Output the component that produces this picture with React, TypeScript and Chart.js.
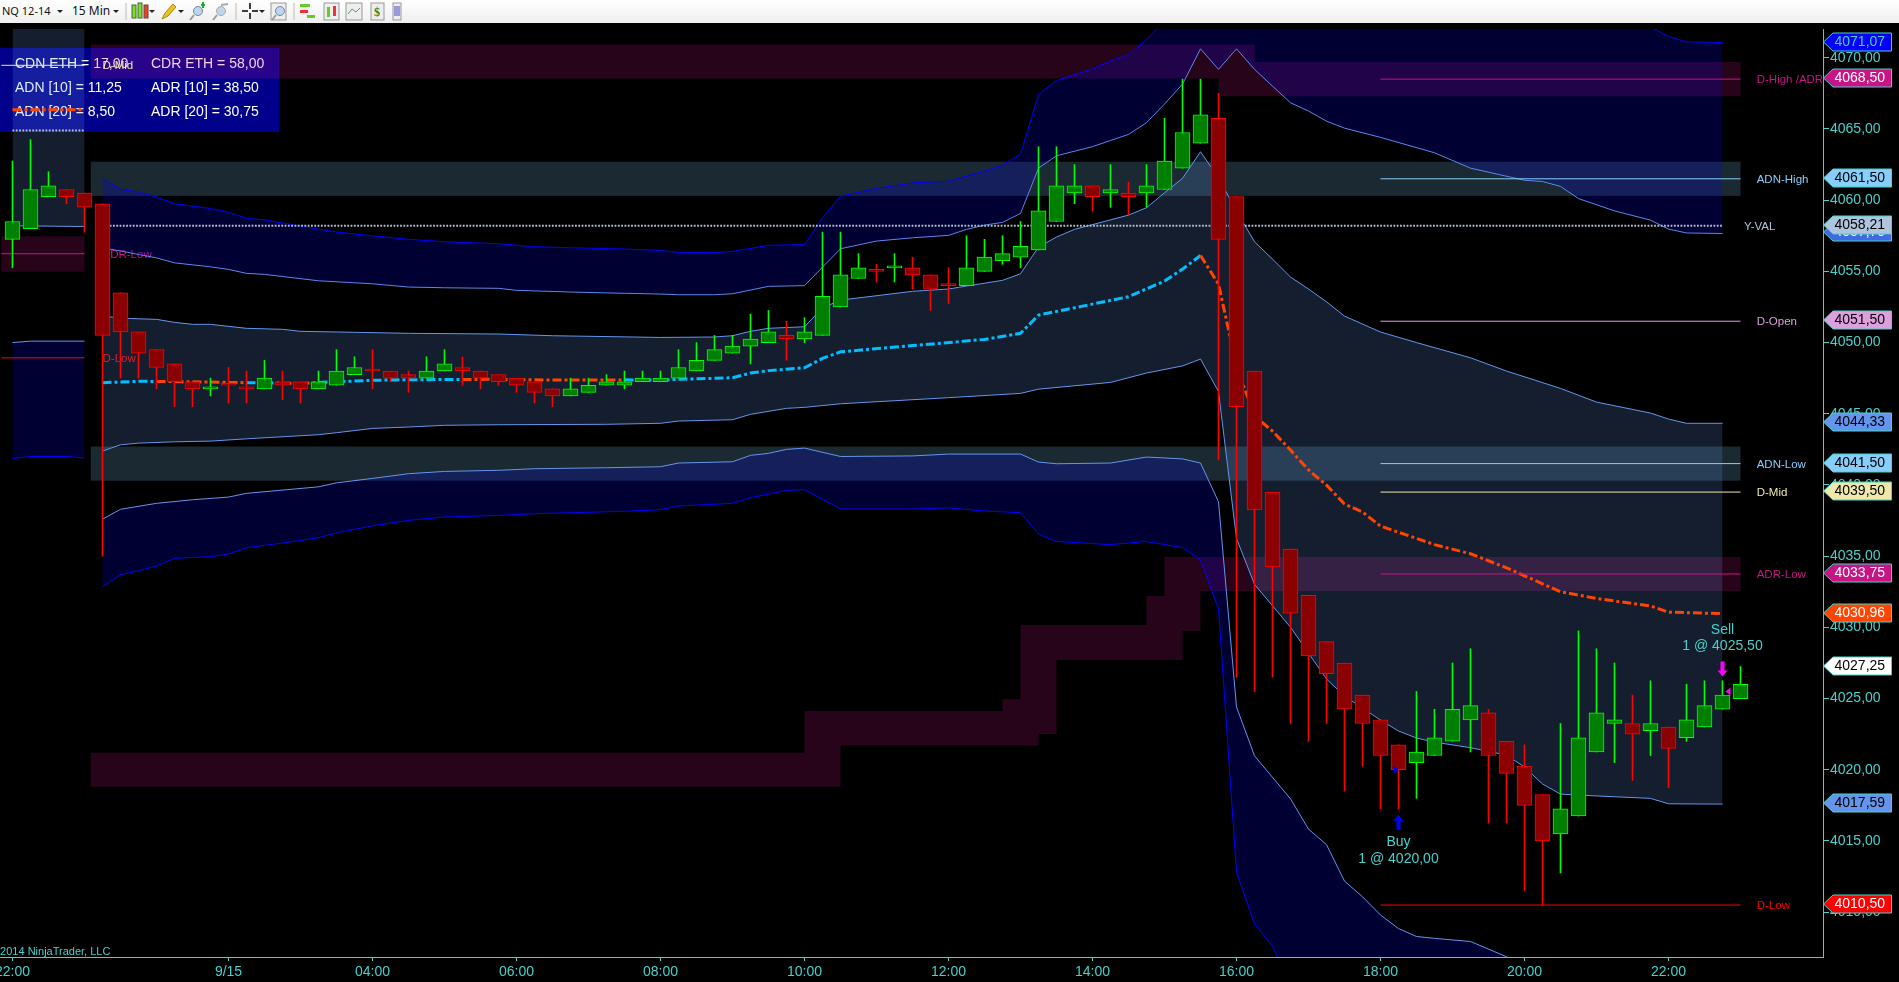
import React, { useEffect, useRef } from "react";
import { Chart, registerables } from "chart.js";

Chart.register(...registerables);

const FONT = '"Liberation Sans", Arial, sans-serif';
const TURQ = "#48d1cc";
const CORN = "rgb(100,149,237)";
const BLUE = "rgb(0,0,255)";
const CYAN = "rgb(0,191,255)";
const ORANGE = "rgb(255,69,0)";
const MAG = "rgb(199,21,133)";
const SKY = "rgb(135,206,250)";
const PLUM = "rgb(221,160,221)";
const GOLD = "rgb(238,232,170)";
const STEEL = "rgb(176,196,222)";
const RED = "rgb(255,0,0)";
const DOTS = "rgb(180,190,210)";
const ZONE_MAG = "rgba(199,21,133,0.2)";
const ZONE_SKY = "rgba(135,206,250,0.2)";
const FILL_SLATE = "rgba(100,149,237,0.2)";
const FILL_NAVY = "rgba(0,0,255,0.2)";

// One row per 15 min bar, slot index = array index
const opens = [4057.25,4058,4060.25,4060.75,4060.5,4059.75,4053.5,4050.75,4049.5,4048.5,4047.25,4046.75,4047,4046.75,4046.75,4047.25,4047.25,4046.75,4047,4047.75,4048,4048,4047.75,4047.5,4048,4048.25,4048,4047.75,4047.5,4047.25,4046.75,4046.25,4046.5,4047,4047,4047.25,4047.25,4047.5,4048,4048.75,4049.25,4049.75,4050,4050.5,4050.25,4050.5,4052.5,4054.5,4055,4055.25,4055.25,4054.75,4054,4054,4055,4055.75,4056,4056.5,4058.5,4060.5,4061,4060.5,4060.5,4060.5,4060.75,4062.25,4064,4065.75,4060.25,4048,4039.5,4035.5,4032.25,4029,4027.5,4025.25,4023.5,4021.75,4020.5,4021,4022,4023.5,4024,4022,4020.25,4018.25,4015.5,4016.75,4021.25,4023.25,4023.25,4022.75,4023,4022.25,4023,4024.25,4025];
const highs = [4062.75,4064.25,4062,4060.75,4060.5,4059.75,4053.5,4050.75,4049.5,4048.5,4047.25,4047.5,4048.25,4048,4048.75,4048,4047.25,4048,4049.5,4049,4049.5,4048,4048,4049,4049.5,4049,4048,4047.75,4047.5,4047.25,4046.75,4047.5,4047.5,4047.75,4048,4048,4048,4049.5,4050,4050.5,4050.5,4052,4052.25,4051.5,4051.75,4057.75,4057.75,4056.25,4055.5,4056.25,4056,4054.75,4055.25,4057.5,4057.25,4057.5,4058.5,4063.75,4063.75,4062.5,4061,4062.5,4061.25,4062.5,4065.75,4068.5,4068.5,4067.5,4060.25,4048,4039.5,4035.5,4032.25,4029,4027.5,4025.25,4023.5,4021.75,4025.5,4024.25,4027.5,4028.5,4024.25,4022,4021.75,4018.25,4023.25,4029.75,4028.5,4027.5,4025.25,4026.25,4023,4026,4026.25,4026.25,4027.25];
const lows = [4055.25,4058,4060.25,4059.75,4057.75,4035,4047.5,4047.5,4046.75,4045.5,4045.5,4046.25,4045.75,4045.75,4046.75,4046,4045.75,4046.75,4047,4047.75,4046.75,4047.25,4046.5,4047.5,4048,4047,4046.75,4047,4046.5,4045.75,4045.5,4046.25,4046.5,4047,4046.75,4047.25,4047.25,4047.5,4048,4048.75,4049.25,4048.5,4050,4048.75,4050,4050.5,4052.5,4054.5,4054.25,4054.25,4053.75,4052.25,4052.75,4054,4055,4055.5,4055.25,4056.5,4058.5,4059.75,4059.25,4059.5,4059,4059.5,4060.75,4062.25,4064,4041.75,4026.5,4025.5,4026.5,4023.25,4022,4023.25,4018.5,4020.25,4017.25,4017.25,4018,4021,4022,4021.25,4016.25,4016.25,4011.5,4010.5,4012.75,4016.75,4021.25,4020.5,4019.25,4021,4018.75,4022,4023,4024.25,4025];
const closes = [4058.5,4060.75,4061,4060.25,4059.5,4050.5,4050.75,4049.25,4048.25,4047.25,4046.75,4046.75,4047,4046.75,4047.5,4047,4046.75,4047.25,4048,4048.25,4048,4047.5,4047.5,4048,4048.5,4048,4047.5,4047.25,4047,4046.5,4046.25,4046.75,4047,4047.25,4047.25,4047.5,4047.5,4048.25,4048.75,4049.5,4049.75,4050.25,4050.75,4050.25,4050.75,4053.25,4054.75,4055.25,4055,4055.25,4054.75,4053.75,4054,4055.25,4056,4056.25,4056.75,4059.25,4061,4061,4060.25,4060.75,4060.25,4061,4062.75,4064.75,4066,4057.25,4045.5,4038.25,4034.25,4031,4028,4026.75,4024.25,4023.25,4021,4020,4021.25,4022.25,4024.25,4024.5,4021,4019.75,4017.5,4015,4017.25,4022.25,4024,4023.5,4022.5,4023.25,4021.5,4023.5,4024.5,4025.25,4026];
const bullish = [1,1,1,0,0,0,0,0,0,0,0,1,0,0,1,0,0,1,1,1,0,0,0,1,1,0,0,0,0,0,0,1,1,1,1,1,1,1,1,1,1,1,1,0,1,1,1,1,0,1,0,0,0,1,1,1,1,1,1,1,0,1,0,1,1,1,1,0,0,0,0,0,0,0,0,0,0,0,1,1,1,1,0,0,0,0,1,1,1,1,0,1,0,1,1,1,1];

// Axis ticks
const tickSlots = [0,12,20,28,36,44,52,60,68,76,84,92];
const tickLabels = ["22:00","9/15","04:00","06:00","08:00","10:00","12:00","14:00","16:00","18:00","20:00","22:00"];

// Volatility bands as [slot, price]
const upper3 = [[5,4061.5],[6,4060.76],[7,4060.57],[8,4060.22],[9,4059.75],[11,4059.42],[12,4059.16],[13,4058.72],[14,4058.62],[16,4058.18],[18,4057.76],[20,4057.5],[22,4057.25],[24,4057.08],[27,4056.94],[29,4056.73],[31,4056.66],[34,4056.57],[36,4056.47],[37,4056.33],[39,4056.33],[40,4056.4],[42,4056.83],[44,4056.88],[45,4058.76],[46,4060.27],[47,4060.55],[48,4060.83],[49,4061.01],[50,4061.21],[52,4061.33],[54,4062.04],[55,4062.46],[56,4063.24],[57,4067.42],[58,4068.41],[60,4069.22],[61,4069.78],[62,4070.21],[63,4071.29],[64,4072.58],[66,4076],[68,4077],[75,4076.5],[85,4075],[90,4074],[91,4072.16],[92,4071.5],[93,4071.12],[95,4071.07]];
const upper2 = [[5,4056.66],[6,4056.43],[7,4056.19],[8,4055.95],[9,4055.6],[11,4055.32],[12,4055.14],[13,4054.86],[14,4054.79],[17,4054.34],[20,4054.13],[22,4053.9],[24,4053.85],[27,4053.81],[28,4053.67],[31,4053.55],[34,4053.46],[36,4053.41],[37,4053.36],[39,4053.36],[40,4053.43],[42,4053.95],[44,4054],[46,4056.59],[48,4057.13],[50,4057.36],[52,4057.53],[53,4057.95],[54,4058.25],[55,4058.44],[56,4059.07],[57,4062.25],[58,4063.12],[60,4063.76],[61,4064.19],[62,4064.62],[63,4065.44],[64,4066.75],[65,4068.15],[66,4070.63],[67,4069.19],[68,4070.63],[69,4069.19],[70,4068.01],[71,4066.84],[72,4066.26],[73,4065.55],[74,4065.06],[76,4064.41],[79,4063.33],[81,4062.25],[84,4061.4],[85,4061.31],[86,4060.97],[87,4060.11],[89,4059.25],[91,4058.6],[92,4057.97],[93,4057.7],[95,4057.66]];
const upper1 = [[5,4051.86],[6,4051.72],[7,4051.67],[8,4051.63],[9,4051.42],[10,4051.28],[11,4051.28],[13,4051],[15,4050.93],[16,4050.79],[19,4050.72],[22,4050.65],[27,4050.6],[30,4050.48],[36,4050.36],[39,4050.39],[40,4050.48],[41,4050.79],[42,4051],[44,4051.11],[45,4052.44],[46,4052.98],[50,4053.6],[52,4053.76],[53,4053.97],[55,4054.37],[56,4054.83],[57,4056.71],[58,4057.41],[59,4057.95],[62,4058.95],[63,4059.47],[64,4060.52],[65,4061.53],[66,4063.4],[67,4061.57],[68,4059.23],[69,4057.08],[70,4055.86],[71,4054.6],[72,4053.76],[73,4052.86],[74,4051.86],[76,4050.74],[78,4050],[81,4048.93],[83,4048],[86,4046.78],[88,4045.82],[91,4045.05],[92,4044.63],[93,4044.33],[95,4044.33]];
const vwap = [[5,4047.18],[7,4047.28],[8,4047.27],[10,4047.25],[13,4047.18],[15,4047.15],[16,4047.13],[17,4047.2],[18,4047.25],[20,4047.35],[22,4047.39],[25,4047.41],[27,4047.42],[30,4047.37],[34,4047.38],[36,4047.37],[37,4047.42],[39,4047.49],[40,4047.53],[41,4047.86],[42,4048.03],[44,4048.23],[45,4048.89],[46,4049.35],[50,4049.79],[54,4050.22],[56,4050.65],[57,4051.93],[60,4052.7],[62,4053.22],[64,4054.32],[65,4055.16],[66,4056.11],[67,4054.11],[68,4048.35],[69,4044.84],[70,4043.78],[71,4042.45],[72,4041.05],[73,4039.99],[74,4038.66],[75,4038.1],[76,4037.11],[79,4035.81],[81,4035.17],[83,4034.18],[86,4032.5],[88,4032.03],[91,4031.5],[92,4031.07],[95,4030.96]];
const vwapBelowSpans = [[8,13],[15,17],[25,34],[66,96]];
const lower1 = [[5,4042.38],[6,4042.82],[7,4042.94],[9,4043.03],[11,4043.08],[13,4043.24],[17,4043.53],[18,4043.67],[20,4043.97],[22,4044.07],[24,4044.19],[27,4044.23],[33,4044.26],[36,4044.33],[37,4044.49],[40,4044.58],[41,4044.96],[43,4045.38],[44,4045.45],[46,4045.7],[52,4046.13],[56,4046.43],[57,4046.73],[61,4047.2],[63,4047.86],[65,4048.36],[66,4048.84],[67,4046.56],[68,4036.24],[69,4033.02],[71,4030.01],[73,4026.37],[74,4025.18],[75,4024.33],[76,4023.49],[77,4022.72],[78,4022.23],[79,4021.94],[81,4021.55],[83,4021.03],[84,4020.19],[85,4019],[86,4018.29],[87,4018.22],[91,4017.99],[92,4017.61],[95,4017.59]];
const lower2 = [[5,4037.6],[6,4038.29],[8,4038.71],[10,4038.96],[12,4039.15],[13,4039.41],[17,4039.87],[18,4040.15],[20,4040.46],[22,4040.79],[24,4040.95],[27,4041.03],[29,4041.14],[33,4041.21],[36,4041.28],[37,4041.54],[40,4041.63],[41,4042.08],[42,4042.22],[43,4042.5],[44,4042.59],[46,4042],[50,4042.04],[52,4042.17],[56,4042.17],[57,4041.61],[58,4041.49],[61,4041.54],[63,4041.96],[65,4041.83],[66,4041.54],[67,4038.82],[68,4024.41],[69,4020.98],[71,4017.96],[72,4015.83],[73,4014.74],[74,4012.18],[75,4011.08],[76,4009.8],[77,4008.85],[78,4008.29],[79,4008.16],[81,4007.94],[83,4006.87],[84,4006.2],[86,4004],[92,4004.2],[95,4004]];
const lower3 = [[5,4032.85],[6,4033.69],[7,4033.98],[8,4034.3],[9,4034.85],[11,4034.96],[12,4035.15],[13,4035.59],[15,4035.92],[17,4036.29],[18,4036.64],[20,4037.13],[22,4037.51],[24,4037.75],[27,4037.86],[29,4037.98],[31,4038.05],[34,4038.15],[36,4038.26],[37,4038.52],[40,4038.71],[41,4039.1],[43,4039.62],[44,4039.67],[46,4038.31],[50,4038.31],[52,4038.39],[54,4038.17],[56,4038.05],[57,4036.55],[58,4036.03],[61,4035.81],[63,4036.03],[65,4035.6],[66,4034.73],[67,4031.3],[68,4012.81],[69,4009.16],[70,4007.62],[71,4004.8],[76,3996],[83,3994],[95,3993]];

// Previous session, left edge
const prevSlateTop = [[0,4073],[4,4073]];
const prevSlateBottom = [[0,4058.2],[4,4058.15]];
const prevNavyTop = [[0,4050],[1,4050.1],[4,4050.1]];
const prevNavyBottom = [[0,4041.85],[1,4042],[3,4042],[4,4041.9]];
const prevOrangeLine = [[0,4066.35],[4,4066.35]];
const prevDotted = [[0,4064.89],[4,4064.89]];

// Levels: slotFrom, slotTo, price, colour
const levels = [
  [76,96,4068.5,MAG],[76,96,4061.5,SKY],[76,96,4051.5,PLUM],[76,96,4041.5,SKY],
  [76,96,4039.5,GOLD],[76,96,4033.75,MAG],[76,96,4010.5,RED],
  [-0.62,4,4069.47,GOLD],[-0.62,4,4056.24,MAG],[-0.62,4,4048.93,RED],
];
const yVal = [[5.4,4058.21],[95,4058.21]];

// Plain zones: slotFrom, slotTo, top, bottom, colour
const zones = [
  [4.35,96,4062.7,4060.3,ZONE_SKY],
  [4.35,96,4042.7,4040.3,ZONE_SKY],
  [-0.62,4,4057.46,4054.97,ZONE_MAG],
];
// Stepped zones: each edge holds its price until the next [slot, price]
const zoneEnd = 96;
const zoneStart = 4.35;
const highZoneTop = [[zoneStart,4070.94],[69,4069.7]];
const highZoneBottom = [[zoneStart,4068.55],[67,4067.3]];
const lowZoneTop = [[zoneStart,4021.2],[44,4024.12],[55,4024.96],[56,4030.16],[63,4032.2],[64,4034.95]];
const lowZoneBottom = [[zoneStart,4018.8],[46,4021.71],[57,4022.51],[58,4027.7],[65,4029.74],[66,4032.55]];

// Level labels: text, slot, price, colour
const levelLabels = [
  ["D-High /ADR",96.9,4068.5,MAG],["ADN-High",96.9,4061.5,SKY],["Y-VAL",96.2,4058.21,STEEL],
  ["D-Open",96.9,4051.5,PLUM],["ADN-Low",96.9,4041.5,SKY],["D-Mid",96.9,4039.5,GOLD],
  ["ADR-Low",96.9,4033.75,MAG],["D-Low",96.9,4010.5,RED],
  ["D-Mid",5,4069.47,GOLD],["ADR-Low",5,4056.24,MAG],["D-Low",5,4048.93,RED],
];

// Price tags: price, fill, text colour
const priceTags = [
  [4071.07,"rgb(0,0,255)",TURQ],[4068.5,MAG,"#fff"],[4061.5,SKY,"#000"],[4057.7,"rgb(65,105,225)","#fff"],
  [4058.21,STEEL,"#000"],[4051.5,PLUM,"#000"],[4044.33,CORN,"#000"],[4041.5,SKY,"#000"],
  [4039.5,GOLD,"#000"],[4033.75,MAG,"#fff"],[4030.96,ORANGE,"#fff"],[4027.25,"#fff","#000"],
  [4017.59,CORN,"#000"],[4010.5,RED,"#fff"],
];

const statsRows = [
  ["CDN ETH = 17,00","CDR ETH = 58,00"],
  ["ADN [10] = 11,25","ADR [10] = 38,50"],
  ["ADN [20] = 8,50","ADR [20] = 30,75"],
];

const buySlot = 77, buyPrice = 4020, sellSlot = 95, sellPrice = 4025.5;

const pts = (a: number[][]) => a.map(([x, y]) => ({ x, y }));
const fmt = (v: number) => v.toFixed(2).replace(".", ",");
const belowVwap = (x: number) => vwapBelowSpans.some(([a, b]) => x >= a && x < b);

function line(data: number[][], color: string, extra: any = {}) {
  return { type: "line", data: pts(data), borderColor: color, backgroundColor: "transparent", borderWidth: 1, pointRadius: 0, tension: 0, fill: false, order: 10, ...extra };
}

const overlay = {
  id: "overlay",
  beforeDatasetsDraw(chart: any) {
    const { ctx, scales: { x, y } } = chart;
    ctx.save();
    // statistics panel sits beneath everything
    ctx.fillStyle = "rgb(0,0,139)";
    ctx.fillRect(0, 48, 279, 84);
    ctx.font = `14px ${FONT}`;
    ctx.textBaseline = "middle";
    ctx.textAlign = "left";
    ctx.fillStyle = "#fff";
    statsRows.forEach((r, i) => {
      ctx.fillText(r[0], 15, 64 + i * 24);
      ctx.fillText(r[1], 151, 64 + i * 24);
    });
    for (const [a, b, t, bt, c] of zones as any[]) {
      const x0 = x.getPixelForValue(a), x1 = x.getPixelForValue(b);
      const y0 = y.getPixelForValue(t), y1 = y.getPixelForValue(bt);
      ctx.fillStyle = c;
      ctx.fillRect(x0, y0, x1 - x0, y1 - y0);
    }
    const stepped = (top: number[][], bottom: number[][]) => {
      ctx.beginPath();
      top.forEach(([s, v], i) => {
        const px = x.getPixelForValue(s), py = y.getPixelForValue(v);
        if (i === 0) ctx.moveTo(px, py); else ctx.lineTo(px, py);
        const next = i + 1 < top.length ? top[i + 1][0] : zoneEnd;
        ctx.lineTo(x.getPixelForValue(next), py);
      });
      for (let i = bottom.length - 1; i >= 0; i--) {
        const [s, v] = bottom[i];
        const next = i + 1 < bottom.length ? bottom[i + 1][0] : zoneEnd;
        const py = y.getPixelForValue(v);
        ctx.lineTo(x.getPixelForValue(next), py);
        ctx.lineTo(x.getPixelForValue(s), py);
      }
      ctx.closePath();
      ctx.fillStyle = ZONE_MAG;
      ctx.fill();
    };
    stepped(highZoneTop, highZoneBottom);
    stepped(lowZoneTop, lowZoneBottom);
    ctx.font = `11.5px ${FONT}`;
    for (const [s, k, v, c] of levelLabels as any[]) {
      ctx.fillStyle = c;
      ctx.fillText(s, x.getPixelForValue(k), y.getPixelForValue(v) + 1);
    }
    ctx.restore();
  },
  afterDraw(chart: any) {
    const { ctx, scales: { x, y } } = chart;
    ctx.save();
    // price tags
    for (const [v, fill, txt] of priceTags as any[]) {
      const cy = Math.round(y.getPixelForValue(v)) - 1;
      ctx.beginPath();
      ctx.moveTo(1823.5, cy);
      ctx.lineTo(1833, cy - 9);
      ctx.lineTo(1891.5, cy - 9);
      ctx.lineTo(1891.5, cy + 9);
      ctx.lineTo(1833, cy + 9);
      ctx.closePath();
      ctx.fillStyle = fill;
      ctx.fill();
      ctx.strokeStyle = TURQ;
      ctx.lineWidth = 1;
      ctx.stroke();
      ctx.fillStyle = txt;
      ctx.font = `14px ${FONT}`;
      ctx.textAlign = "left";
      ctx.textBaseline = "middle";
      ctx.fillText(fmt(v), 1834.5, cy + 0.5);
    }
    // trade markers
    const arrow = (cx: number, tip: number, dir: number, col: string) => {
      ctx.fillStyle = col;
      ctx.beginPath();
      ctx.moveTo(cx, tip);
      ctx.lineTo(cx + 5, tip + dir * 6);
      ctx.lineTo(cx + 2, tip + dir * 6);
      ctx.lineTo(cx + 2, tip + dir * 15);
      ctx.lineTo(cx - 2, tip + dir * 15);
      ctx.lineTo(cx - 2, tip + dir * 6);
      ctx.lineTo(cx - 5, tip + dir * 6);
      ctx.closePath();
      ctx.fill();
    };
    const bx = x.getPixelForValue(buySlot), by = y.getPixelForValue(buyPrice);
    const sx = x.getPixelForValue(sellSlot), sy = y.getPixelForValue(sellPrice);
    arrow(bx, by + 45, 1, "rgb(0,0,255)");
    arrow(sx, sy - 15, -1, "rgb(255,0,255)");
    ctx.fillStyle = "rgb(0,0,255)";
    ctx.beginPath();
    ctx.moveTo(bx - 5, by - 4); ctx.lineTo(bx - 5, by + 4); ctx.lineTo(bx, by); ctx.closePath(); ctx.fill();
    ctx.fillStyle = "rgb(255,0,255)";
    ctx.beginPath();
    ctx.moveTo(sx + 8, sy - 4); ctx.lineTo(sx + 8, sy + 4); ctx.lineTo(sx + 3, sy); ctx.closePath(); ctx.fill();
    ctx.fillStyle = TURQ;
    ctx.font = `14px ${FONT}`;
    ctx.textAlign = "center";
    ctx.textBaseline = "middle";
    ctx.fillText("Buy", bx, by + 72);
    ctx.fillText("1 @ " + fmt(buyPrice), bx, by + 89);
    ctx.fillText("Sell", sx, sy - 61);
    ctx.fillText("1 @ " + fmt(sellPrice), sx, sy - 45);
    // copyright
    ctx.textAlign = "left";
    ctx.font = `11px ${FONT}`;
    ctx.fillText("©2014 NinjaTrader, LLC", -8, 952);
    ctx.restore();
  },
};

function Toolbar() {
  const tri = (x: number) => <polygon points={`${x},10 ${x + 6},10 ${x + 3},13`} fill="#222" />;
  const sep = (x: number) => <line x1={x} x2={x} y1={3} y2={20} stroke="#bbb" />;
  const lens = (x: number, c: string) => (
    <g>
      <circle cx={x + 8} cy={11} r={4.5} fill="#bcd6ee" stroke={c} />
      <line x1={x + 4} y1={15} x2={x} y2={20} stroke="#999" strokeWidth={2} />
    </g>
  );
  const box = (x: number, w: number, body: any) => (
    <g>
      <rect x={x} y={3} width={w} height={17} fill="#eee" stroke="#999" />
      {body}
    </g>
  );
  return (
    <svg width={1899} height={23} style={{ position: "absolute", left: 0, top: 0, display: "block" }}>
      <defs>
        <linearGradient id="tb" x1="0" x2="0" y1="0" y2="1">
          <stop offset="0" stopColor="#ffffff" />
          <stop offset="1" stopColor="#efefef" />
        </linearGradient>
      </defs>
      <rect width={1899} height={23} fill="url(#tb)" />
      <text x={2} y={15} fontFamily="Noto Sans, Open Sans" fontSize={11} fill="#111">NQ 12-14</text>
      {tri(57)}
      <text x={72} y={15} fontFamily="Noto Sans, Open Sans" fontSize={12} fill="#111">15 Min</text>
      {tri(113)}
      {sep(126)}
      <rect x={132} y={5} width={4} height={13} fill="#7fe020" stroke="#464" />
      <rect x={138} y={3} width={4} height={15} fill="#7fe020" stroke="#464" />
      <rect x={144} y={5} width={4} height={13} fill="#f04020" stroke="#644" />
      {tri(149)}
      <polygon points="162,19 165,13 173,4 176,7 168,16" fill="#f0c020" stroke="#a80" />
      {tri(178)}
      {lens(190, "#789")}
      <path d="M201 5h4M203 2v6" stroke="#2a2" strokeWidth={2} />
      {lens(213, "#aaa")}
      <line x1={221} x2={228} y1={5} y2={4} stroke="#aaa" strokeWidth={2} />
      {sep(236)}
      <path d="M242 11h6M252 11h6M250 3v6M250 13v6" stroke="#000" strokeWidth={1.5} />
      {tri(259)}
      {box(271, 15, lens(272, "#789"))}
      {sep(294)}
      <rect x={300} y={4} width={10} height={3} fill="#6c2" />
      <rect x={300} y={10} width={8} height={3} fill="#e33" />
      <rect x={307} y={15} width={8} height={3} fill="#6c2" />
      {box(324, 15, <g><rect x={327} y={7} width={3} height={10} fill="#6c2" /><rect x={333} y={6} width={3} height={10} fill="#e33" /></g>)}
      {box(346, 16, <polyline points="348,14 352,9 356,12 360,8" fill="none" stroke="#4a4" />)}
      {box(371, 13, <text x={374} y={16} fontSize={12} fontWeight="bold" fill="#282">$</text>)}
      {box(393, 8, <rect x={394} y={6} width={6} height={10} fill="#99d" />)}
    </svg>
  );
}

export default function App() {
  const ref = useRef<HTMLCanvasElement | null>(null);
  useEffect(() => {
    document.body.style.margin = "0";
    const slots = opens.map((_, i) => i);
    const bodyColor = slots.map((i) => (bullish[i] ? "rgb(0,128,0)" : "rgb(139,0,0)"));
    const edgeColor = slots.map((i) => (bullish[i] ? "rgb(0,255,0)" : RED));
    const datasets: any[] = [
      line(upper3, BLUE, { fill: { target: "+1", above: FILL_NAVY, below: FILL_NAVY } }),
      line(upper2, CORN),
      line(upper1, CORN, { fill: { target: "+1", above: FILL_SLATE, below: FILL_SLATE } }),
      line(lower1, CORN),
      line(lower2, CORN, { fill: { target: "+1", above: FILL_NAVY, below: FILL_NAVY } }),
      line(lower3, BLUE),
      line(prevSlateTop, "transparent", { fill: { target: "+1", above: FILL_SLATE, below: FILL_SLATE } }),
      line(prevSlateBottom, CORN),
      line(prevNavyTop, CORN, { fill: { target: "+1", above: FILL_NAVY, below: FILL_NAVY } }),
      line(prevNavyBottom, BLUE),
      line(vwap, CYAN, {
        borderWidth: 3,
        borderDash: [9, 3, 3, 3],
        order: 6,
        segment: { borderColor: (c: any) => (belowVwap(c.p0.parsed.x) ? ORANGE : CYAN) },
      }),
      line(prevOrangeLine, ORANGE, { borderWidth: 3, borderDash: [9, 3, 3, 3], order: 6 }),
      line(prevDotted, DOTS, { borderWidth: 2, borderDash: [1.8, 1.5], order: 6 }),
      line(yVal, DOTS, { borderWidth: 2, borderDash: [1.8, 1.5], order: 6 }),
      ...levels.map(([a, b, v, c]: any) => line([[a, v], [b, v]], c, { order: 5 })),
      {
        type: "bar",
        data: slots.map((i) => ({ x: i, y: [lows[i], highs[i]] })),
        backgroundColor: edgeColor,
        borderWidth: 0,
        barThickness: 1,
        grouped: false,
        order: 2,
      },
      {
        type: "bar",
        data: slots.map((i) => ({ x: i, y: [opens[i], closes[i]] })),
        backgroundColor: bodyColor,
        borderColor: edgeColor,
        borderWidth: 1,
        borderSkipped: false,
        barThickness: 15,
        minBarLength: 2,
        grouped: false,
        order: 1,
      },
    ];
    const chart = new Chart(ref.current as any, {
      type: "bar",
      data: { datasets },
      plugins: [overlay],
      options: {
        responsive: false,
        animation: false,
        events: [],
        layout: { padding: { top: 29, left: 0, right: 0, bottom: 0 } },
        plugins: { legend: { display: false }, tooltip: { enabled: false }, title: { display: false } },
        scales: {
          x: {
            type: "linear",
            offset: false,
            min: -12.5 / 18,
            max: (1823 - 12.5) / 18,
            grid: { offset: false, drawOnChartArea: false, drawTicks: true, tickLength: 4, color: TURQ },
            border: { color: TURQ },
            ticks: {
              autoSkip: false,
              maxRotation: 0,
              includeBounds: false,
              color: TURQ,
              padding: 3,
              font: { family: FONT, size: 14 },
              callback: (v: any) => tickLabels[tickSlots.indexOf(v)] ?? "",
            },
            afterBuildTicks: (s: any) => { s.ticks = tickSlots.map((value) => ({ value })); },
            afterFit: (s: any) => { s.height = 25; s.paddingLeft = 0; s.paddingRight = 0; },
          },
          y: {
            position: "right",
            min: 4072.02 - 928 / 14.24,
            max: 4072.02,
            grid: { drawOnChartArea: false, drawTicks: true, tickLength: 6, color: TURQ },
            border: { color: TURQ },
            ticks: {
              stepSize: 5,
              includeBounds: false,
              autoSkip: false,
              color: TURQ,
              padding: 1,
              font: { family: FONT, size: 14 },
              callback: (v: any) => fmt(Number(v)),
            },
            afterBuildTicks: (s: any) => {
              s.ticks = s.ticks.filter((t: any) => t.value % 5 === 0);
            },
            afterFit: (s: any) => { s.width = 76; s.paddingTop = 0; s.paddingBottom = 0; },
          },
        },
      } as any,
    } as any);
    return () => chart.destroy();
  }, []);
  return (
    <div style={{ position: "fixed", left: 0, top: 0, width: 1899, height: 982, background: "#000", overflow: "hidden" }}>
      <canvas ref={ref} width={1899} height={982} style={{ position: "absolute", left: 0, top: 0, display: "block" }} />
      <Toolbar />
    </div>
  );
}
